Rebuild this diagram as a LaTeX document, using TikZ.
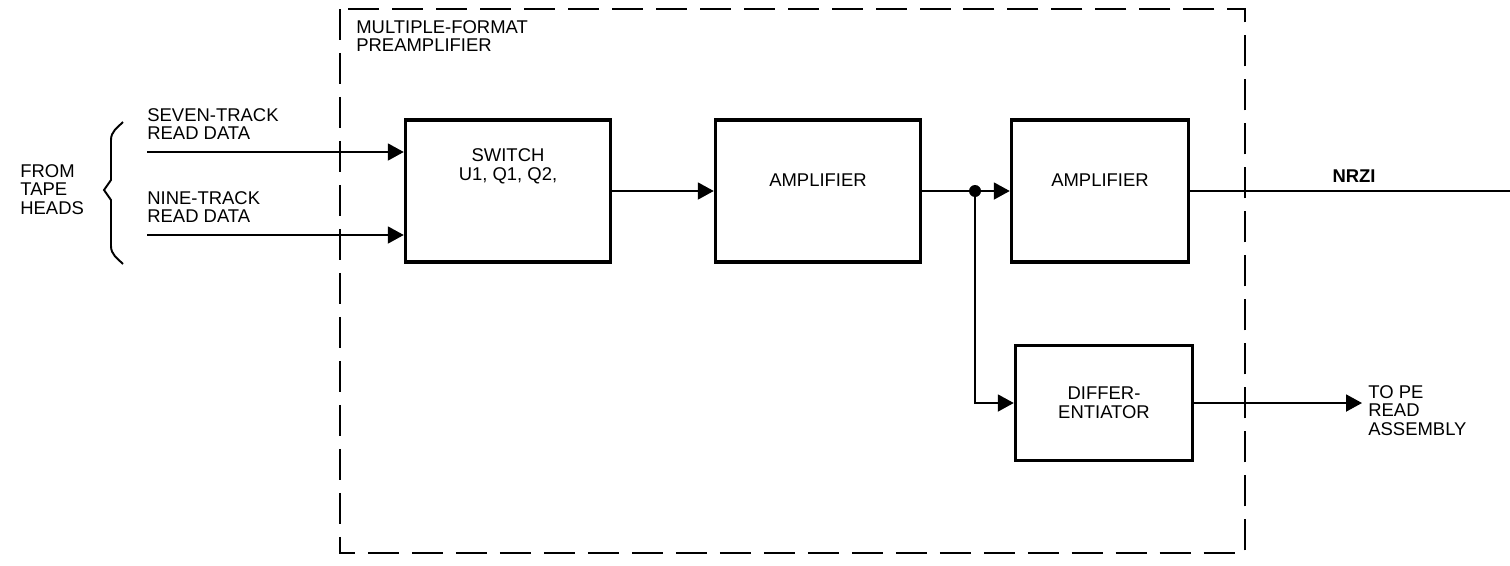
\documentclass[tikz,border=0pt]{standalone}
\usepackage{fontspec}
\setmainfont{Liberation Sans}
\usetikzlibrary{positioning, arrows.meta, calc}
\tikzset{
  blockbox/.style={
    draw, line width=2pt, minimum width=#1, minimum height=2.84cm,
    inner sep=0pt
  },
  sigline/.style={
    line width=1.1pt
  },
  sigarrow/.style={
    -{Triangle[length=0.32cm, width=0.34cm]}, line width=1.1pt
  },
  boundary/.style={
    line width=1.2pt, dash pattern=on 0.62cm off 0.26cm
  },
  caption/.style={
    align=left, anchor=north west, inner sep=0pt,
    font=\fontsize{10.5}{10.6}\selectfont
  },
  boxtext/.style={
    align=center, inner sep=0pt,
    font=\fontsize{10.5}{10.6}\selectfont
  },
}

\begin{document}
\begin{tikzpicture}[x=0.02cm, y=-0.02cm]
\useasboundingbox (0,0) rectangle (1510,565);

% ---- Preamplifier boundary ----
\coordinate (bnw) at (340,9);
\coordinate (bse) at (1245,553);
\draw[boundary] (bnw) rectangle (bse);
\node[caption] (title) at (356,20) {MULTIPLE-FORMAT\\PREAMPLIFIER};

% ---- Blocks ----
\node[blockbox=4.1cm] (sw) at (508,191) {};
\node[boxtext] (swtxt) at ($(sw.center)+(0,-25)$) {SWITCH\\U1, Q1, Q2,};

\node[blockbox=4.1cm] (amp) at (818,191) {};
\node[boxtext] (amptxt) at ($(amp.center)+(0,-11)$) {AMPLIFIER};

\node[blockbox=3.54cm] (amptwo) at (1100,191) {};
\node[boxtext] (amptwotxt) at ($(amptwo.center)+(0,-11)$) {AMPLIFIER};

\node[blockbox=3.54cm, minimum height=2.3cm] (diff) at (1104,403) {};
\node[boxtext] (difftxt) at (diff.center) {DIFFER-\\ENTIATOR};

% ---- Inputs ----
\coordinate (sevenin) at (147,152);
\coordinate (ninein) at (147,235);
\draw[sigarrow] (sevenin) -- (sevenin -| sw.west);
\draw[sigarrow] (ninein) -- (ninein -| sw.west);
\node[caption] (seventxt) at (147,108) {SEVEN-TRACK\\READ DATA};
\node[caption] (ninetxt) at (147,191) {NINE-TRACK\\READ DATA};

% brace
\draw[line width=1.1pt] (123,122) to[out=-135,in=90] (111,140) -- (111,180)
  -- (104,190) -- (111,200) -- (111,246) to[out=-90,in=135] (123,264);
\node[caption] (heads) at (20,164) {FROM\\TAPE\\HEADS};

% ---- Signal path ----
\draw[sigarrow] (sw.east) -- (amp.west);
\coordinate (split) at (975,191);
\draw[sigarrow] (amp.east) -- (split) -- (amptwo.west);
\fill (split) circle (6);
\draw[sigarrow] (split) |- (diff.west);

% ---- Outputs ----
\coordinate (nrziout) at (1510,191);
\draw[sigline] (amptwo.east) -- (nrziout);
\node[boxtext, font=\fontsize{10.5}{10.6}\selectfont\bfseries, anchor=south]
  (nrzi) at (1354,183) {NRZI};

\coordinate (peout) at (1362,403);
\draw[sigarrow] (diff.east) -- (peout);
\node[caption] (petxt) at (1368,385) {TO PE\\READ\\ASSEMBLY};

\end{tikzpicture}
\end{document}
